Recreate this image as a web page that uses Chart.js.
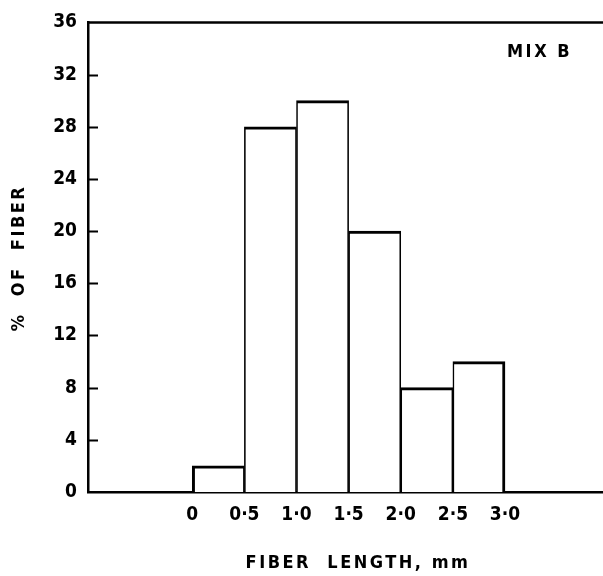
<!DOCTYPE html>
<html>
<head>
<meta charset="utf-8">
<script src="https://cdn.jsdelivr.net/npm/chart.js@4.4.1/dist/chart.umd.min.js"></script>
<style>
  html, body { margin: 0; padding: 0; background: #fff; overflow: hidden; }
  #wrap { width: 603px; height: 576px; position: relative; }
</style>
</head>
<body>
<div id="wrap"><canvas id="myChart"></canvas></div>
<script>
// fiber length bins (mm) and share of fibers (%)
const binStarts = [0, 0.5, 1.0, 1.5, 2.0, 2.5];
const binEnds = [0.5, 1.0, 1.5, 2.0, 2.5, 3.0];
const fiberPercent = [2, 28, 30, 20, 8, 10];
const xTickValues = [0, 0.5, 1.0, 1.5, 2.0, 2.5, 3.0];
const yTickValues = [0, 4, 8, 12, 16, 20, 24, 28, 32, 36];
const mixLabel = 'MIX B';
const xTitle = 'FIBER  LENGTH, mm';
const yTitle = '%  OF  FIBER';

const FONT = "'DejaVu Sans Condensed', 'DejaVu Sans', sans-serif";

function fmtX(v) {
    return v === 0 ? '0' : v.toFixed(1).replace('.', '\u00B7');
}

// inside tick marks, top frame line and the text labels
const decorations = {
    id: 'decorations',
    afterDraw(chart) {
        const ctx = chart.ctx;
        const area = chart.chartArea;
        const y = chart.scales.y;
        const x = chart.scales.x;
        ctx.save();
        ctx.strokeStyle = '#000';
        ctx.lineWidth = 2.5;
        ctx.beginPath();
        ctx.moveTo(area.left, area.top);
        ctx.lineTo(area.right, area.top);
        ctx.stroke();
        ctx.lineWidth = 2;
        ctx.beginPath();
        yTickValues.forEach(v => {
            if (v === 0 || v === 36) return;
            const py = Math.round(y.getPixelForValue(v)) + 0.5;
            ctx.moveTo(area.left, py);
            ctx.lineTo(area.left + 10, py);
        });
        ctx.stroke();

        ctx.fillStyle = '#000';
        ctx.font = 'bold 18px ' + FONT;
        ctx.letterSpacing = '2.5px';
        ctx.textBaseline = 'middle';

        ctx.textAlign = 'left';
        ctx.fillText(mixLabel, x.getPixelForValue(3.0) + 2, y.getPixelForValue(33.7));

        ctx.textAlign = 'center';
        ctx.fillText(xTitle, 358, 563);

        ctx.translate(19, 258);
        ctx.rotate(-Math.PI / 2);
        ctx.fillText(yTitle, 0, 0);
        ctx.restore();
    }
};

const ctx = document.getElementById('myChart').getContext('2d');

new Chart(ctx, {
    type: 'bar',
    data: {
        datasets: [{
            label: mixLabel,
            data: fiberPercent.map((p, i) => ({ x: (binStarts[i] + binEnds[i]) / 2, y: p })),
            backgroundColor: '#fff',
            borderColor: '#000',
            borderWidth: (c) => ({
                top: 3,
                bottom: 0,
                left: c.dataIndex === 0 ? 3 : 1.6,
                right: c.dataIndex === fiberPercent.length - 1 ? 3 : 1.6
            }),
            borderSkipped: false,
            barPercentage: 1,
            categoryPercentage: 1
        }]
    },
    options: {
        responsive: true,
        maintainAspectRatio: false,
        animation: false,
        layout: { padding: { top: 22, left: 0, right: 0, bottom: 0 } },
        plugins: {
            legend: { display: false },
            tooltip: { enabled: false }
        },
        scales: {
            x: {
                type: 'linear',
                offset: false,
                min: -1,
                max: 3.94,
                afterBuildTicks: (s) => { s.ticks = xTickValues.map(v => ({ value: v })); },
                afterFit: (s) => { s.height = 84; },
                grid: { display: false, drawTicks: false, offset: false },
                border: { display: true, color: '#000', width: 2.5 },
                ticks: {
                    color: '#000',
                    padding: 12,
                    maxRotation: 0,
                    autoSkip: false,
                    font: { family: FONT, size: 19, weight: 'bold' },
                    callback: (v) => fmtX(v)
                }
            },
            y: {
                min: 0,
                max: 36,
                afterBuildTicks: (s) => { s.ticks = yTickValues.map(v => ({ value: v })); },
                afterFit: (s) => { s.width = 88; },
                grid: { display: false, drawTicks: false },
                border: { display: true, color: '#000', width: 2.5 },
                ticks: {
                    color: '#000',
                    padding: 11,
                    autoSkip: false,
                    font: { family: FONT, size: 19, weight: 'bold' }
                }
            }
        }
    },
    plugins: [decorations]
});
</script>
</body>
</html>
